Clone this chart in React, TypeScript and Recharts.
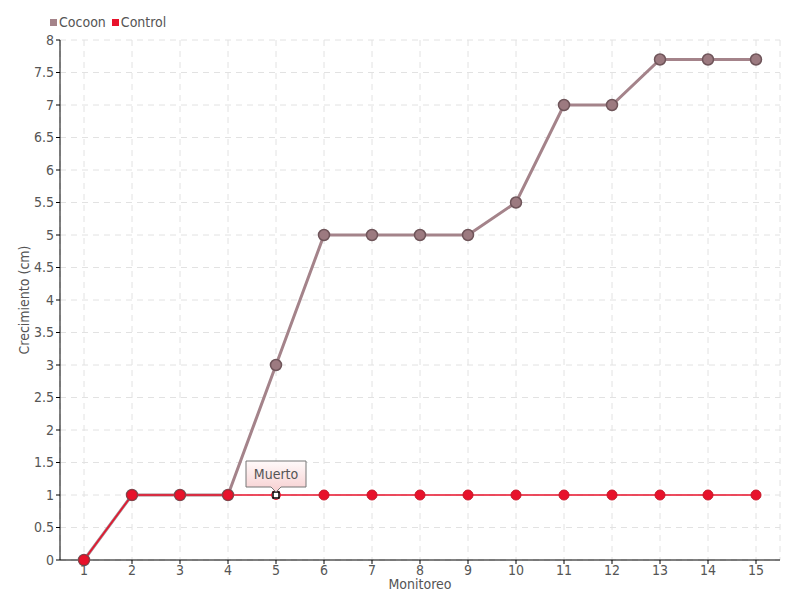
import React from 'react';
import {
    LineChart,
    Line,
    XAxis,
    YAxis,
    CartesianGrid,
    Legend,
} from 'recharts';

const monitoreo = ['1', '2', '3', '4', '5', '6', '7', '8', '9', '10', '11', '12', '13', '14', '15'];
const cocoon = [0, 1, 1, 1, 3, 5, 5, 5, 5, 5.5, 7, 7, 7.7, 7.7, 7.7];
const control = [0, 1, 1, 1, 1, 1, 1, 1, 1, 1, 1, 1, 1, 1, 1];
const yTicks = [0, 0.5, 1, 1.5, 2, 2.5, 3, 3.5, 4, 4.5, 5, 5.5, 6, 6.5, 7, 7.5, 8];
const muertoIndex = 4;
const muertoText = 'Muerto';

const FONT = "'DejaVu Sans Condensed', 'Liberation Sans Narrow', sans-serif";
const COCOON_COLOR = '#a4838a';
const CONTROL_COLOR = '#e8122b';

const data = monitoreo.map((m, i) => ({
    name: m,
    Cocoon: cocoon[i],
    Control: control[i],
}));

const ControlDot = (props: any) => {
    const { cx, cy, index } = props;
    if (cx == null || cy == null) return null;
    if (index === muertoIndex) {
        return (
            <g key={`dot-${index}`}>
                <circle cx={cx} cy={cy} r={4.5} fill="#fff" stroke="#e8122b" strokeWidth={1} />
                <rect x={cx - 3} y={cy - 3} width={6} height={6} fill="#fff" stroke="#000" strokeWidth={1.5} />
                <path
                    d={`M${cx - 30},${cy - 34} h60 v26 h-25 l-5,5 l-5,-5 h-25 z`}
                    fill="url(#muertoGradient)"
                    stroke="#777"
                    strokeWidth={1}
                />
                <text
                    x={cx}
                    y={cy - 16}
                    textAnchor="middle"
                    fontSize={14}
                    fill="#555"
                    fontFamily={FONT}
                >
                    {muertoText}
                </text>
            </g>
        );
    }
    return <circle key={`dot-${index}`} cx={cx} cy={cy} r={5} fill={CONTROL_COLOR} stroke="#c41a2a" strokeWidth={1} />;
};

const CocoonDot = (props: any) => {
    const { cx, cy, index } = props;
    if (cx == null || cy == null) return null;
    return <circle key={`cdot-${index}`} cx={cx} cy={cy} r={5.5} fill="#9c7a80" stroke="#6f555a" strokeWidth={1.5} />;
};

const renderLegend = () => (
    <div style={{ display: 'flex', gap: 6, fontFamily: FONT, fontSize: 14, color: '#555', height: 20, paddingLeft: 50 }}>
        <span style={{ display: 'flex', alignItems: 'center' }}>
            <span style={{ width: 7, height: 7, background: COCOON_COLOR, marginRight: 2 }} />
            Cocoon
        </span>
        <span style={{ display: 'flex', alignItems: 'center' }}>
            <span style={{ width: 7, height: 7, background: CONTROL_COLOR, marginRight: 2 }} />
            Control
        </span>
    </div>
);

export default function App() {
    return (
        <div style={{ position: 'absolute', left: 0, top: 0, width: 800, height: 600, background: '#fff' }}>
            <LineChart
                width={800}
                height={600}
                data={data}
                margin={{ top: 20, right: 20, bottom: 0, left: 0 }}
            >
                <defs>
                    <linearGradient id="muertoGradient" x1="0" y1="0" x2="0" y2="1">
                        <stop offset="0%" stopColor="#fffafa" />
                        <stop offset="100%" stopColor="#f7cfd0" />
                    </linearGradient>
                </defs>
                <Legend verticalAlign="top" align="left" content={renderLegend} wrapperStyle={{ top: 12, left: 0 }} />
                <CartesianGrid stroke="#e2e2e2" strokeDasharray="6 5" />
                <XAxis
                    dataKey="name"
                    height={40}
                    tickSize={4}
                    tickMargin={1}
                    padding={{ left: 24, right: 24 }}
                    stroke="#000"
                    tick={{ fill: '#555', fontSize: 14, fontFamily: FONT }}
                    label={{ value: 'Monitoreo', position: 'insideTop', offset: 19, fill: '#555', fontSize: 14, fontFamily: FONT, style: { fill: '#555' } }}
                />
                <YAxis
                    width={60}
                    domain={[0, 8]}
                    ticks={yTicks}
                    interval={0}
                    tickSize={4}
                    stroke="#000"
                    tick={{ fill: '#555', fontSize: 14, fontFamily: FONT }}
                    label={{ value: 'Crecimiento (cm)', angle: -90, position: 'insideLeft', offset: 24, fill: '#555', fontSize: 14, fontFamily: FONT, style: { textAnchor: 'middle', fill: '#555' } }}
                />
                <Line
                    type="linear"
                    dataKey="Cocoon"
                    stroke={COCOON_COLOR}
                    strokeWidth={3}
                    dot={CocoonDot}
                    activeDot={false}
                    isAnimationActive={false}
                />
                <Line
                    type="linear"
                    dataKey="Control"
                    stroke={CONTROL_COLOR}
                    strokeWidth={1.5}
                    dot={ControlDot}
                    activeDot={false}
                    isAnimationActive={false}
                />
            </LineChart>
        </div>
    );
}
